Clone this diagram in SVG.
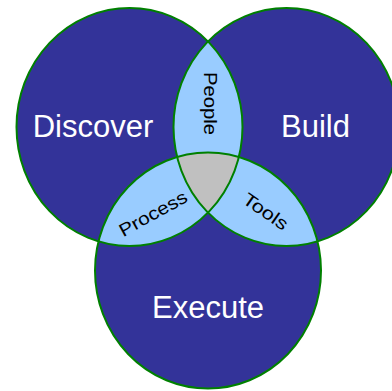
<svg xmlns="http://www.w3.org/2000/svg" width="392" height="391" viewBox="0 0 392 391">
  <style>
    .set { fill: #333399; }
    .pair { fill: #99CCFF; }
    .core { fill: #C0C0C0; }
    .outline { fill: none; stroke: #008000; stroke-width: 2; }
    .big { font-family: "Liberation Sans", Arial, sans-serif; font-size: 31px; fill: #FFFFFF; text-anchor: middle; }
    .small { font-family: "Liberation Sans", Arial, sans-serif; font-size: 18px; fill: #000000; text-anchor: middle; }
  </style>
  <defs>
    <ellipse id="shapeDiscover" cx="129.5" cy="127" rx="113" ry="119"/>
    <ellipse id="shapeBuild" cx="286.5" cy="127" rx="113" ry="119"/>
    <ellipse id="shapeExecute" cx="208" cy="270.5" rx="113" ry="118"/>
    <clipPath id="clipDiscover"><use href="#shapeDiscover"/></clipPath>
    <clipPath id="clipBuild"><use href="#shapeBuild"/></clipPath>
    <clipPath id="clipExecute"><use href="#shapeExecute"/></clipPath>
  </defs>

  <!-- the three sets -->
  <g id="discover">
    <use href="#shapeDiscover" class="set"/>
    <text class="big" x="93" y="137">Discover</text>
  </g>
  <g id="build">
    <use href="#shapeBuild" class="set"/>
    <text class="big" x="315.5" y="137">Build</text>
  </g>
  <g id="execute">
    <use href="#shapeExecute" class="set"/>
    <text class="big" x="208" y="318">Execute</text>
  </g>

  <!-- pairwise overlaps -->
  <g id="people">
    <g clip-path="url(#clipDiscover)"><use href="#shapeBuild" class="pair"/></g>
  </g>
  <g id="process">
    <g clip-path="url(#clipDiscover)"><use href="#shapeExecute" class="pair"/></g>
  </g>
  <g id="tools">
    <g clip-path="url(#clipBuild)"><use href="#shapeExecute" class="pair"/></g>
  </g>

  <!-- overlap of all three -->
  <g id="core">
    <g clip-path="url(#clipDiscover)"><g clip-path="url(#clipBuild)"><use href="#shapeExecute" class="core"/></g></g>
  </g>

  <!-- outlines -->
  <g id="outlines">
    <use href="#shapeDiscover" class="outline"/>
    <use href="#shapeBuild" class="outline"/>
    <use href="#shapeExecute" class="outline"/>
  </g>

  <!-- overlap labels -->
  <g id="labels">
    <text class="small" transform="translate(203.5,103.5) rotate(90)" textLength="63" lengthAdjust="spacingAndGlyphs">People</text>
    <text class="small" transform="translate(156,219) rotate(-29)" textLength="75" lengthAdjust="spacingAndGlyphs">Process</text>
    <text class="small" transform="translate(262,216.5) rotate(35)" textLength="51" lengthAdjust="spacingAndGlyphs">Tools</text>
  </g>
</svg>
